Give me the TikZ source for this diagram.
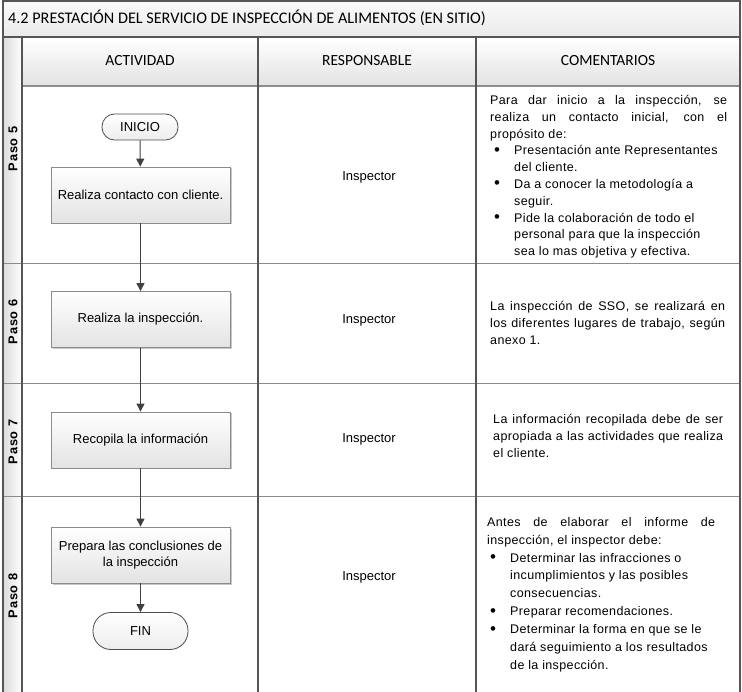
\documentclass[tikz,border=0pt]{standalone}
\usepackage{fontspec}
\setmainfont{Liberation Sans}
\newfontfamily\calib{Carlito}
\newfontfamily\cmtf{Liberation Sans}[LetterSpace=3]
\newfontfamily\pasof{Liberation Sans}[LetterSpace=6]
\usetikzlibrary{arrows.meta,shadows}
\definecolor{framec}{HTML}{555555}
\definecolor{rowc}{HTML}{8C8C8C}
\definecolor{arrowc}{HTML}{404040}
\tikzset{
  actbox/.style={draw=black!45, line width=0.8pt, top color=white, bottom color=black!11,
    minimum width=179pt, minimum height=56pt, inner sep=2pt, align=center,
    font=\fontsize{13}{16}\selectfont,
    drop shadow={shadow xshift=1.5pt, shadow yshift=-1.5pt, fill=black, opacity=0.22}},
  termbox/.style={draw=black!70, line width=0.8pt, top color=white, bottom color=black!7,
    inner sep=0pt, align=center, font=\fontsize{13}{16}\selectfont},
  conn/.style={draw=arrowc, line width=1pt, -{Triangle[length=8pt,width=8pt]}},
  cmt/.style={anchor=north west, inner sep=0pt, align=left,
    font=\cmtf\fontsize{12.5}{16.8}\selectfont},
  resp/.style={font=\fontsize{13}{16}\selectfont, inner sep=0pt},
  pasolbl/.style={rotate=90, font=\pasof\bfseries\fontsize{12.8}{15}\selectfont, inner sep=0pt},
  hdr/.style={font=\calib\fontsize{15.5}{18}\selectfont, inner sep=0pt}
}
\newcommand\bul{\makebox[20pt][l]{\raisebox{-0.4pt}{\scalebox{1.35}{•}}}}
\begin{document}
\begin{tikzpicture}[x=1pt,y=-1pt]
\useasboundingbox (0,0) rectangle (742,692);
% backgrounds
\fill[top color=black!2, bottom color=black!8] (3,1) rectangle (740,37);
\fill[top color=white, bottom color=black!11] (22,37) rectangle (740,86);
\fill[left color=black!14, right color=white] (3,37) rectangle (22,692);
% row lines
\foreach \yy in {264,384,497}
  \draw[rowc, line width=1pt] (3,\yy) -- (740,\yy);
\draw[rowc, line width=1.2pt] (22,86) -- (740,86);
% column lines
\foreach \xx in {22,258,476}
  \draw[framec, line width=1.3pt] (\xx,37) -- (\xx,692);
\draw[framec, line width=1.3pt] (3,37) -- (740,37);
% outer frame
\draw[framec, line width=1.5pt] (3,692) -- (3,1) -- (740,1) -- (740,692);
% title and headers
\node[anchor=west, font=\calib\fontsize{16.2}{19}\selectfont, inner sep=0pt] (title) at (8,18)
  {4.2 PRESTACIÓN DEL SERVICIO DE INSPECCIÓN DE ALIMENTOS (EN SITIO)};
\node[hdr] (h1) at (140,61) {ACTIVIDAD};
\node[hdr] (h2) at (367,61) {RESPONSABLE};
\node[hdr] (h3) at (608,61) {COMENTARIOS};
% paso labels
\node[pasolbl] (p5) at (13,149) {Paso 5};
\node[pasolbl] (p6) at (13,322) {Paso 6};
\node[pasolbl] (p7) at (13,442) {Paso 7};
\node[pasolbl] (p8) at (13,596) {Paso 8};
% flow
\node[termbox, minimum width=76pt, minimum height=26pt, rounded corners=12.5pt] (ini) at (140,127) {INICIO};
\node[actbox] (a5) at (140.5,195) {Realiza contacto con cliente.};
\node[actbox] (a6) at (140.5,319.5) {Realiza la inspección.};
\node[actbox] (a7) at (140.5,440) {Recopila la información};
\node[actbox] (a8) at (140.5,555) {Prepara las conclusiones de\\la inspección};
\node[termbox, minimum width=95pt, minimum height=37pt, rounded corners=18pt] (fin) at (140.5,631) {FIN};
\draw[conn] (ini) -- (a5);
\draw[conn] (a5) -- (a6);
\draw[conn] (a6) -- (a7);
\draw[conn] (a7) -- (a8);
\draw[conn] (a8) -- (fin);
% responsable
\node[resp] (r5) at (369,177) {Inspector};
\node[resp] (r6) at (369,320) {Inspector};
\node[resp] (r7) at (369,439) {Inspector};
\node[resp] (r8) at (369,577) {Inspector};
% comments
\node[cmt] (c5) at (490,95) {%
\makebox[237pt][s]{Para dar inicio a la inspección, se}\\
\makebox[237pt][s]{realiza un contacto inicial, con el}\\
propósito de:\\
\hspace*{4pt}\bul Presentación ante Representantes\\
\hspace*{24pt}del cliente.\\
\hspace*{4pt}\bul Da a conocer la metodología a\\
\hspace*{24pt}seguir.\\
\hspace*{4pt}\bul Pide la colaboración de todo el\\
\hspace*{24pt}personal para que la inspección\\
\hspace*{24pt}sea lo mas objetiva y efectiva.};
\node[cmt] (c6) at (490,301.5) {%
\makebox[235pt][s]{La inspección de SSO, se realizará en}\\
\makebox[235pt][s]{los diferentes lugares de trabajo, según}\\
anexo 1.};
\node[cmt] (c7) at (493,414.5) {%
\makebox[230pt][s]{La información recopilada debe de ser}\\
\makebox[230pt][s]{apropiada a las actividades que realiza}\\
el cliente.};
\node[cmt, font=\cmtf\fontsize{12.5}{17.9}\selectfont] (c8) at (487,517) {%
\makebox[228pt][s]{Antes de elaborar el informe de}\\
inspección, el inspector debe:\\
\hspace*{3pt}\bul Determinar las infracciones o\\
\hspace*{23pt}incumplimientos y las posibles\\
\hspace*{23pt}consecuencias.\\
\hspace*{3pt}\bul Preparar recomendaciones.\\
\hspace*{3pt}\bul Determinar la forma en que se le\\
\hspace*{23pt}dará seguimiento a los resultados\\
\hspace*{23pt}de la inspección.};
\end{tikzpicture}
\end{document}
